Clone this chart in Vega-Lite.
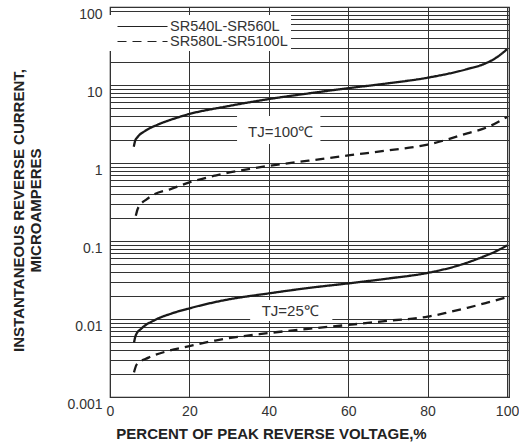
{
  "$schema": "https://vega.github.io/schema/vega-lite/v6.json",
  "width": 399,
  "height": 390,
  "autosize": {"type": "none"},
  "padding": {"left": 110, "top": 7, "right": 10, "bottom": 47},
  "config": {
    "font": "Liberation Sans",
    "view": {"stroke": "#222", "strokeWidth": 1.2},
    "axis": {"gridColor": "#333", "gridOpacity": 1, "gridWidth": 1, "domain": false, "ticks": false, "labelColor": "#333", "labelFontSize": 14, "titleColor": "#222", "titleFontSize": 15, "titleFontWeight": "bold"}
  },
  "datasets": {
    "curves": [
      {"pct": 6.0, "current": 1.62, "series": "SR540L-SR560L", "temp": "100"},
      {"pct": 6.3, "current": 1.9, "series": "SR540L-SR560L", "temp": "100"},
      {"pct": 7.0, "current": 2.17, "series": "SR540L-SR560L", "temp": "100"},
      {"pct": 8.8, "current": 2.57, "series": "SR540L-SR560L", "temp": "100"},
      {"pct": 12.2, "current": 3.13, "series": "SR540L-SR560L", "temp": "100"},
      {"pct": 16.4, "current": 3.74, "series": "SR540L-SR560L", "temp": "100"},
      {"pct": 20, "current": 4.25, "series": "SR540L-SR560L", "temp": "100"},
      {"pct": 29, "current": 5.27, "series": "SR540L-SR560L", "temp": "100"},
      {"pct": 40, "current": 6.6, "series": "SR540L-SR560L", "temp": "100"},
      {"pct": 50, "current": 7.8, "series": "SR540L-SR560L", "temp": "100"},
      {"pct": 60, "current": 9.1, "series": "SR540L-SR560L", "temp": "100"},
      {"pct": 70, "current": 10.5, "series": "SR540L-SR560L", "temp": "100"},
      {"pct": 80, "current": 12.4, "series": "SR540L-SR560L", "temp": "100"},
      {"pct": 90, "current": 16.0, "series": "SR540L-SR560L", "temp": "100"},
      {"pct": 94, "current": 18.4, "series": "SR540L-SR560L", "temp": "100"},
      {"pct": 97.4, "current": 22.6, "series": "SR540L-SR560L", "temp": "100"},
      {"pct": 100, "current": 28.7, "series": "SR540L-SR560L", "temp": "100"},
      {"pct": 6.5, "current": 0.21, "series": "SR580L-SR5100L", "temp": "100"},
      {"pct": 7.0, "current": 0.26, "series": "SR580L-SR5100L", "temp": "100"},
      {"pct": 9.3, "current": 0.345, "series": "SR580L-SR5100L", "temp": "100"},
      {"pct": 11.3, "current": 0.4, "series": "SR580L-SR5100L", "temp": "100"},
      {"pct": 15.1, "current": 0.46, "series": "SR580L-SR5100L", "temp": "100"},
      {"pct": 20, "current": 0.565, "series": "SR580L-SR5100L", "temp": "100"},
      {"pct": 26.5, "current": 0.69, "series": "SR580L-SR5100L", "temp": "100"},
      {"pct": 40, "current": 0.92, "series": "SR580L-SR5100L", "temp": "100"},
      {"pct": 50, "current": 1.07, "series": "SR580L-SR5100L", "temp": "100"},
      {"pct": 60, "current": 1.25, "series": "SR580L-SR5100L", "temp": "100"},
      {"pct": 70, "current": 1.45, "series": "SR580L-SR5100L", "temp": "100"},
      {"pct": 80, "current": 1.72, "series": "SR580L-SR5100L", "temp": "100"},
      {"pct": 90, "current": 2.4, "series": "SR580L-SR5100L", "temp": "100"},
      {"pct": 95, "current": 2.87, "series": "SR580L-SR5100L", "temp": "100"},
      {"pct": 100, "current": 3.9, "series": "SR580L-SR5100L", "temp": "100"},
      {"pct": 6.05, "current": 0.005, "series": "SR540L-SR560L", "temp": "25"},
      {"pct": 6.5, "current": 0.0062, "series": "SR540L-SR560L", "temp": "25"},
      {"pct": 8.0, "current": 0.0076, "series": "SR540L-SR560L", "temp": "25"},
      {"pct": 11.3, "current": 0.0097, "series": "SR540L-SR560L", "temp": "25"},
      {"pct": 15.6, "current": 0.0118, "series": "SR540L-SR560L", "temp": "25"},
      {"pct": 20, "current": 0.0137, "series": "SR540L-SR560L", "temp": "25"},
      {"pct": 29, "current": 0.0175, "series": "SR540L-SR560L", "temp": "25"},
      {"pct": 40, "current": 0.0213, "series": "SR540L-SR560L", "temp": "25"},
      {"pct": 50, "current": 0.025, "series": "SR540L-SR560L", "temp": "25"},
      {"pct": 60, "current": 0.0286, "series": "SR540L-SR560L", "temp": "25"},
      {"pct": 70, "current": 0.033, "series": "SR540L-SR560L", "temp": "25"},
      {"pct": 80, "current": 0.039, "series": "SR540L-SR560L", "temp": "25"},
      {"pct": 88, "current": 0.049, "series": "SR540L-SR560L", "temp": "25"},
      {"pct": 94, "current": 0.063, "series": "SR540L-SR560L", "temp": "25"},
      {"pct": 97.5, "current": 0.075, "series": "SR540L-SR560L", "temp": "25"},
      {"pct": 100, "current": 0.088, "series": "SR540L-SR560L", "temp": "25"},
      {"pct": 6.05, "current": 0.00207, "series": "SR580L-SR5100L", "temp": "25"},
      {"pct": 6.7, "current": 0.0026, "series": "SR580L-SR5100L", "temp": "25"},
      {"pct": 9.7, "current": 0.0032, "series": "SR580L-SR5100L", "temp": "25"},
      {"pct": 14.7, "current": 0.0039, "series": "SR580L-SR5100L", "temp": "25"},
      {"pct": 20, "current": 0.0045, "series": "SR580L-SR5100L", "temp": "25"},
      {"pct": 26.5, "current": 0.0053, "series": "SR580L-SR5100L", "temp": "25"},
      {"pct": 40, "current": 0.0066, "series": "SR580L-SR5100L", "temp": "25"},
      {"pct": 50, "current": 0.0075, "series": "SR580L-SR5100L", "temp": "25"},
      {"pct": 60, "current": 0.0084, "series": "SR580L-SR5100L", "temp": "25"},
      {"pct": 70, "current": 0.0095, "series": "SR580L-SR5100L", "temp": "25"},
      {"pct": 80, "current": 0.0107, "series": "SR580L-SR5100L", "temp": "25"},
      {"pct": 85, "current": 0.0121, "series": "SR580L-SR5100L", "temp": "25"},
      {"pct": 90, "current": 0.0139, "series": "SR580L-SR5100L", "temp": "25"},
      {"pct": 95, "current": 0.0162, "series": "SR580L-SR5100L", "temp": "25"},
      {"pct": 100, "current": 0.019, "series": "SR580L-SR5100L", "temp": "25"}
    ],
    "boxes": [
      {"x1": 32, "x2": 53, "y1": 1.75, "y2": 4.0},
      {"x1": 35.3, "x2": 56, "y1": 0.0094, "y2": 0.0175}
    ],
    "notes": [
      {"px": 43, "cur": 2.5, "label": "TJ=100℃"},
      {"px": 45.4, "cur": 0.0127, "label": "TJ=25℃"}
    ]
  },
  "layer": [
    {
      "data": {"name": "boxes"},
      "mark": {"type": "rect", "fill": "white", "strokeWidth": 0},
      "encoding": {
        "x": {
          "field": "x1", "type": "quantitative",
          "scale": {"domain": [0, 100.5], "nice": false, "zero": false},
          "axis": {"values": [0, 20, 40, 60, 80, 100], "grid": true, "labelFlush": false, "labelPadding": 7, "title": "PERCENT OF PEAK REVERSE VOLTAGE,%", "titleX": 161, "titleY": 36, "titleBaseline": "middle", "titleAlign": "center"}
        },
        "x2": {"field": "x2"},
        "y": {
          "field": "y1", "type": "quantitative",
          "scale": {"type": "log", "domain": [0.001, 100], "nice": false},
          "axis": {
            "values": [0.001, 0.002, 0.003, 0.004, 0.005, 0.006, 0.007, 0.008, 0.009, 0.01, 0.02, 0.03, 0.04, 0.05, 0.06, 0.07, 0.08, 0.09, 0.1, 0.2, 0.3, 0.4, 0.5, 0.6, 0.7, 0.8, 0.9, 1, 2, 3, 4, 5, 6, 7, 8, 9, 10, 20, 30, 40, 50, 60, 70, 80, 90, 100],
            "grid": true,
            "labelOverlap": false,
            "labelOffset": 7,
            "labelPadding": 8,
            "labelExpr": "datum.value == 100 ? '100' : datum.value == 10 ? '10' : datum.value == 1 ? '1' : datum.value == 0.1 ? '0.1' : datum.value == 0.01 ? '0.01' : datum.value == 0.001 ? '0.001' : ''",
            "title": ["INSTANTANEOUS REVERSE CURRENT,", "MICROAMPERES"],
            "titleLineHeight": 17,
            "titleAngle": -90,
            "titleX": -92,
            "titleY": 203,
            "titleBaseline": "middle",
            "titleAlign": "center"
          }
        },
        "y2": {"field": "y2"}
      }
    },
    {
      "data": {"name": "curves"},
      "mark": {"type": "line", "stroke": "#1a1a1a", "strokeWidth": 2.3, "interpolate": "monotone"},
      "encoding": {
        "x": {"field": "pct", "type": "quantitative", "title": "PERCENT OF PEAK REVERSE VOLTAGE,%"},
        "y": {"field": "current", "type": "quantitative", "title": ["INSTANTANEOUS REVERSE CURRENT,", "MICROAMPERES"]},
        "strokeDash": {
          "field": "series", "type": "nominal",
          "scale": {"domain": ["SR540L-SR560L", "SR580L-SR5100L"], "range": [[1, 0], [9, 6]]},
          "legend": {"orient": "none", "legendX": -4, "legendY": 8, "title": null, "fillColor": "white", "padding": 3, "symbolType": "M0,0H6.67", "symbolSize": 225, "symbolStrokeWidth": 1.2, "symbolStrokeColor": "#222", "labelFontSize": 14.5, "labelColor": "#333", "labelOffset": 44, "rowPadding": 0}
        },
        "detail": {"field": "temp", "type": "nominal"}
      }
    },
    {
      "data": {"name": "notes"},
      "mark": {"type": "text", "fontSize": 15, "color": "#333", "align": "center", "baseline": "middle"},
      "encoding": {
        "x": {"field": "px", "type": "quantitative", "title": "PERCENT OF PEAK REVERSE VOLTAGE,%"},
        "y": {"field": "cur", "type": "quantitative", "title": ["INSTANTANEOUS REVERSE CURRENT,", "MICROAMPERES"]},
        "text": {"field": "label"}
      }
    }
  ]
}
